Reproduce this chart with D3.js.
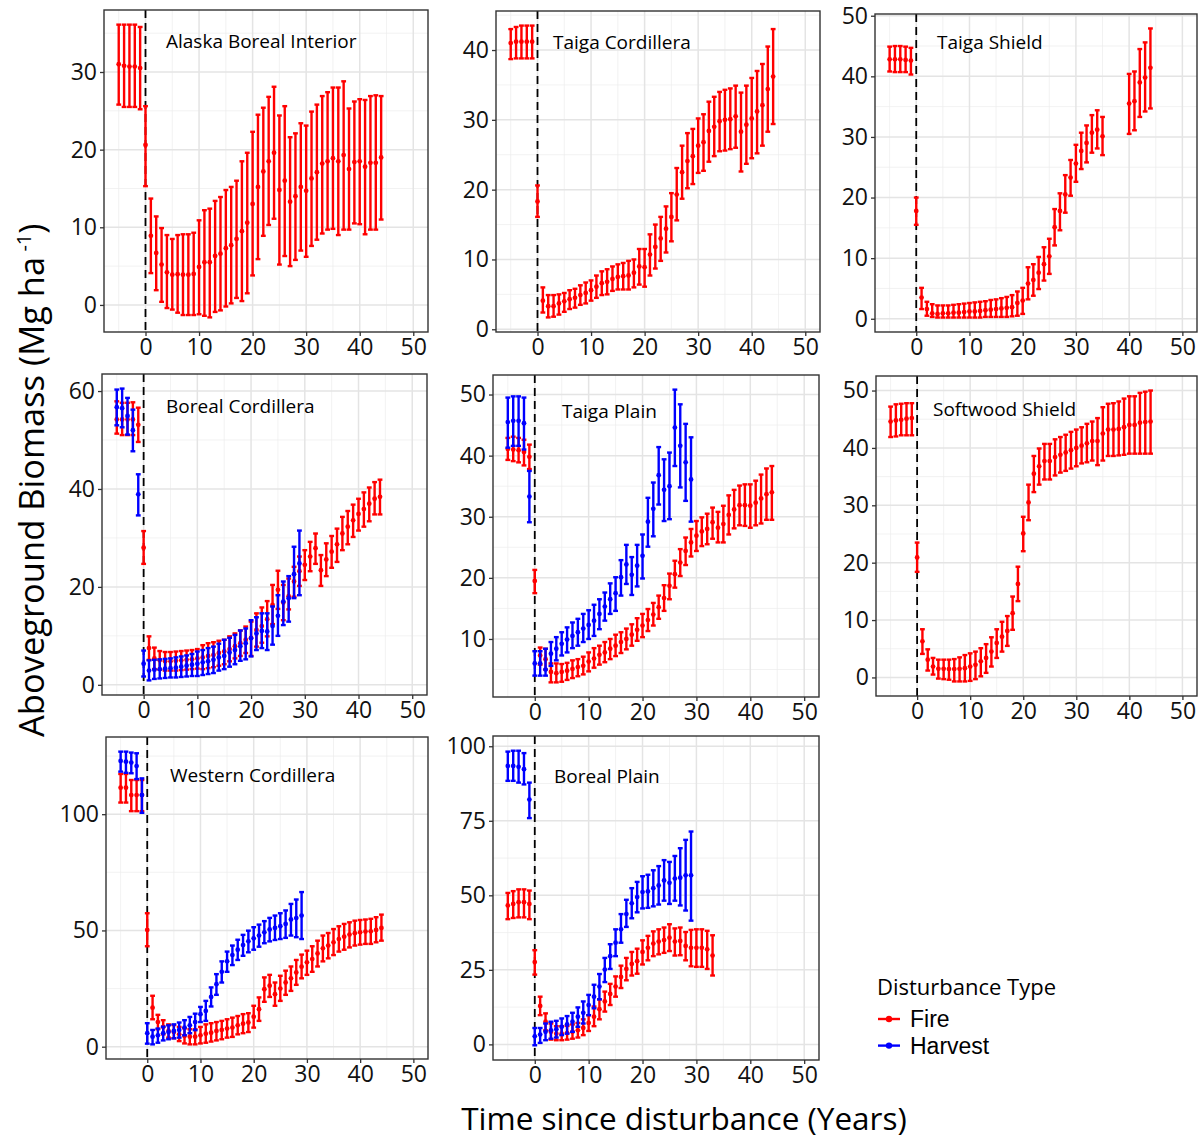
<!DOCTYPE html>
<html>
<head>
<meta charset="utf-8">
<script src="https://cdn.jsdelivr.net/npm/d3@7"></script>
<style>
  body { margin: 0; background: #fff; }
  svg { display: block; font-family: 'Open Sans', sans-serif; }
</style>
</head>
<body>
<svg id="chart" width="1200" height="1142"></svg>
<script>
// years on the x axis
const fireYears = [-5,-4,-3,-2,-1,0,1,2,3,4,5,6,7,8,9,10,11,12,13,14,15,16,17,18,19,20,21,22,23,24,25,26,27,28,29,30,31,32,33,34,35,36,37,38,39,40,41,42,43,44];
const harvestYears = [-5,-4,-3,-2,-1,0,1,2,3,4,5,6,7,8,9,10,11,12,13,14,15,16,17,18,19,20,21,22,23,24,25,26,27,28,29];
const borealPlainFireYears = [-5,-4,-3,-2,-1,0,1,2,3,4,5,6,7,8,9,10,11,12,13,14,15,16,17,18,19,20,21,22,23,24,25,26,27,28,29,30,31,32,33];
const xTickValues = [0, 10, 20, 30, 40, 50];

// Alaska Boreal Interior
const alaskaFireMean = [31.0,30.8,30.7,30.7,30.5,20.6,8.9,6.7,5.2,4.2,3.9,3.95,3.9,3.9,4.0,4.9,5.5,5.5,6.3,6.6,7.3,7.7,8.5,9.5,10.6,13.0,15.2,17.2,18.5,19.6,14.8,16.0,13.3,14.0,15.2,14.7,16.3,17.1,18.2,18.5,18.9,18.5,19.3,17.5,18.4,18.5,17.8,18.3,18.3,19.0];
const alaskaFireHi = [36.1,36.1,36.1,36.1,35.8,25.6,13.7,11.4,9.9,9.0,8.5,9.0,9.1,9.1,9.3,10.9,12.2,12.4,13.4,13.9,14.8,15.2,16.0,18.5,19.6,22.3,24.5,25.4,26.8,28.1,24.4,25.6,21.6,22.1,23.4,23.1,24.9,25.8,26.9,27.4,28.0,28.0,28.8,25.3,26.2,26.5,26.4,26.9,27.0,26.9];
const alaskaFireLo = [25.8,25.5,25.5,25.5,25.2,15.3,4.1,1.9,0.4,-0.4,-0.6,-1.0,-1.3,-1.3,-1.3,-1.2,-1.4,-1.6,-0.9,-0.7,-0.2,0.2,0.9,0.5,1.5,3.8,5.9,8.9,10.3,11.1,5.2,6.3,5.0,5.8,7.0,6.2,7.6,8.4,9.2,9.7,9.8,9.0,9.7,9.7,10.5,10.4,9.1,9.7,9.7,11.0];
const alaskaTicks = [0, 10, 20, 30];

// Taiga Cordillera
const taigaCordFireMean = [41.0,41.2,41.2,41.2,41.2,18.3,4.1,3.3,3.3,3.7,4.0,4.3,4.5,4.9,5.2,5.6,6.1,6.6,6.8,7.2,7.5,7.6,7.7,8.1,9.0,8.9,10.7,11.8,13.0,14.4,16.1,19.3,22.5,24.1,24.8,26.3,26.8,28.4,29.0,29.8,30.0,30.1,30.5,28.3,29.3,30.2,31.2,32.1,34.4,36.2];
const taigaCordFireHi = [43.0,43.3,43.5,43.5,43.5,20.6,6.0,4.9,4.9,5.0,5.2,5.6,5.8,6.3,6.7,7.0,7.7,8.3,8.6,9.0,9.3,9.5,9.8,10.0,11.5,11.5,13.6,15.0,16.1,17.6,19.5,23.1,26.3,28.1,28.7,30.2,30.8,32.6,33.3,34.0,34.3,34.5,34.9,33.9,34.9,36.0,37.0,38.0,40.5,43.0];
const taigaCordFireLo = [38.7,38.8,38.8,38.8,38.8,16.1,2.4,1.7,1.8,2.1,2.5,2.9,3.1,3.5,3.7,4.1,4.5,4.9,5.0,5.5,5.7,5.7,5.7,6.0,6.4,6.1,7.7,8.7,9.8,11.0,12.6,15.6,18.7,20.2,20.8,22.4,22.7,24.0,24.8,25.5,25.6,25.8,26.0,22.6,23.7,24.5,25.2,26.3,28.3,29.4];
const taigaCordTicks = [0, 10, 20, 30, 40];

// Taiga Shield (no estimate for years 36-39)
const taigaShieldFireMean = [42.8,42.8,42.8,42.7,42.6,17.8,3.5,1.6,0.9,0.8,0.9,0.9,1.0,1.0,1.1,1.2,1.2,1.3,1.4,1.5,1.6,1.7,1.8,1.9,2.6,3.0,5.8,6.4,7.6,9.0,10.3,15.1,17.8,20.5,23.3,25.6,27.7,29.0,30.7,31.2,30.1,null,null,null,null,35.5,35.9,39.0,39.8,41.4];
const taigaShieldFireHi = [44.9,45.0,45.0,44.9,44.7,20.0,5.1,2.8,2.4,2.2,2.2,2.2,2.3,2.4,2.5,2.6,2.7,2.8,2.9,3.1,3.2,3.4,3.6,3.9,4.5,5.1,8.5,9.0,10.2,11.8,13.2,18.1,20.7,23.7,26.2,28.7,30.7,31.9,33.6,34.4,33.3,null,null,null,null,40.4,40.8,44.5,45.6,47.9];
const taigaShieldFireLo = [40.8,40.7,40.7,40.7,40.3,15.5,1.6,0.5,0.3,0.2,0.2,0.2,0.2,0.2,0.2,0.2,0.2,0.2,0.3,0.3,0.3,0.3,0.3,0.4,0.5,0.8,3.2,3.8,4.9,6.3,7.4,12.1,14.6,17.5,20.3,22.6,24.7,25.8,27.4,28.1,27.0,null,null,null,null,30.5,31.1,33.3,34.2,34.7];
const taigaShieldTicks = [0, 10, 20, 30, 40, 50];

// Boreal Cordillera
const borealCordFireMean = [54.2,54.2,54.2,54.2,53.1,28.0,7.5,5.4,5.0,4.8,4.8,4.9,5.0,5.1,5.2,5.4,5.6,5.9,6.1,6.5,6.8,7.3,7.9,8.5,9.2,9.6,11.2,12.0,13.4,16.3,19.4,16.8,18.1,21.1,23.2,24.5,26.2,27.9,23.4,25.6,27.2,28.7,30.9,32.3,33.6,34.9,35.9,37.0,38.0,38.4];
const borealCordFireHi = [57.9,57.6,57.6,57.7,56.6,31.4,9.9,7.6,6.9,6.7,6.7,6.8,6.9,7.0,7.1,7.3,8.1,8.5,8.7,9.0,9.2,9.9,10.5,11.1,11.9,12.9,14.6,15.8,17.1,20.4,23.3,20.4,21.7,24.1,26.2,27.5,29.2,30.9,26.5,28.9,30.4,31.9,34.3,35.5,36.8,38.0,39.3,40.3,41.4,41.9];
const borealCordFireLo = [51.3,51.0,51.0,51.0,49.6,24.7,5.1,3.2,3.1,2.9,2.9,2.9,3.0,3.1,3.2,3.3,3.2,3.4,3.6,3.9,4.2,4.8,5.4,5.9,6.5,5.9,7.8,8.6,9.9,12.4,15.5,13.2,15.4,18.0,20.2,21.4,23.2,24.7,20.2,22.2,23.9,25.1,27.5,28.7,30.2,31.5,32.3,33.4,34.8,34.8];
const borealCordHarvestMean = [56.7,56.5,54.9,52.0,38.9,4.3,2.9,3.1,3.2,3.3,3.4,3.5,3.7,3.9,4.1,4.3,4.6,4.8,5.1,5.6,5.9,6.6,7.1,7.9,8.5,9.5,10.5,11.0,10.9,12.0,14.1,17.0,17.7,22.6,24.8];
const borealCordHarvestHi = [60.3,60.5,58.6,56.2,43.0,7.0,5.0,5.1,5.2,5.3,5.4,5.6,5.8,6.0,6.3,6.8,7.1,7.5,7.8,8.4,9.2,9.6,10.2,11.1,11.5,13.2,13.8,14.6,14.6,16.0,18.3,21.1,22.2,28.2,31.5];
const borealCordHarvestLo = [53.0,52.6,51.1,47.7,34.6,1.7,0.9,1.2,1.3,1.4,1.5,1.5,1.6,1.7,1.8,1.8,2.0,2.2,2.4,2.9,3.2,3.7,4.2,4.9,5.2,5.8,7.1,7.5,7.1,8.2,10.0,12.2,12.9,17.7,18.3];
const borealCordTicks = [0, 20, 40, 60];

// Taiga Plain
const taigaPlainFireMean = [41.1,41.0,40.9,40.6,39.8,19.5,7.3,6.7,4.6,4.4,4.6,4.8,5.1,5.4,5.6,6.3,6.8,7.4,7.8,8.4,8.9,9.5,10.0,10.7,11.5,12.2,13.1,14.0,15.2,16.7,18.7,20.6,22.5,24.4,25.8,26.9,27.6,28.0,29.1,28.2,28.8,30.3,31.2,31.9,31.9,31.8,32.3,33.0,33.7,34.0];
const taigaPlainFireHi = [42.9,43.1,42.9,42.6,41.8,21.3,8.6,8.4,6.0,6.0,5.9,6.1,6.5,6.7,7.1,7.8,8.5,8.9,9.5,10.0,10.7,11.1,11.7,12.4,13.4,14.1,14.9,15.9,17.1,18.8,20.7,22.8,24.7,26.6,28.0,29.3,29.9,30.5,31.5,30.8,31.8,33.5,34.4,35.1,35.3,35.3,35.9,36.9,37.9,38.3];
const taigaPlainFireLo = [39.3,39.1,38.9,38.4,37.8,17.5,5.8,5.0,2.9,2.9,3.0,3.3,3.6,3.9,4.2,4.7,5.3,5.8,6.2,6.7,7.2,7.7,8.3,8.9,9.7,10.3,11.3,12.2,13.3,14.6,16.5,18.4,20.3,22.1,23.5,24.4,25.2,25.5,26.4,25.8,25.8,27.1,28.1,28.6,28.5,28.2,28.6,28.9,29.5,29.5];
const taigaPlainHarvestMean = [45.5,45.7,45.7,45.3,33.3,6.0,6.0,5.0,7.6,8.4,9.2,9.9,10.5,11.1,11.7,12.3,13.0,14.1,15.3,16.5,17.5,20.1,22.2,20.5,22.0,23.6,29.2,31.3,36.8,34.4,35.0,44.6,41.6,38.9,36.1];
const taigaPlainHarvestHi = [49.5,49.7,49.7,49.5,37.5,8.0,8.0,8.4,9.5,10.3,11.1,11.9,12.7,13.3,14.1,14.7,15.6,16.5,17.6,19.1,20.1,22.9,25.4,23.4,25.4,27.1,33.1,35.6,41.4,39.4,40.5,50.8,48.4,45.2,43.0];
const taigaPlainHarvestLo = [41.3,41.6,41.6,41.0,29.1,4.0,4.0,4.0,5.6,6.5,7.3,7.8,8.5,8.9,9.5,10.0,10.5,11.6,13.0,14.1,14.6,17.1,19.0,17.2,18.6,19.9,25.1,26.8,32.0,29.3,29.6,38.3,34.8,32.6,29.2];
const taigaPlainTicks = [10, 20, 30, 40, 50];

// Softwood Shield
const softwoodFireMean = [44.6,44.8,44.9,45.1,45.2,20.9,6.3,3.1,1.9,1.5,1.5,1.45,1.45,1.5,1.6,1.9,2.2,2.8,3.4,4.5,6.0,7.1,8.1,11.2,16.3,25.1,30.5,35.5,36.8,37.7,37.7,38.4,38.8,39.2,39.6,40.0,40.4,40.8,41.2,41.2,42.5,43.2,43.2,43.3,43.6,44.0,44.0,44.4,44.5,44.6];
const softwoodFireHi = [47.2,47.6,47.7,47.8,47.8,23.5,8.4,4.9,3.4,3.1,3.1,3.1,3.2,3.5,3.9,4.2,4.5,5.1,5.8,7.0,8.4,9.7,10.7,14.1,19.3,28.0,33.6,38.6,39.9,40.7,40.7,41.5,41.9,42.3,42.8,43.2,43.6,44.2,44.6,45.2,47.1,47.7,47.8,48.1,48.6,49.0,49.0,49.6,49.8,50.0];
const softwoodFireLo = [41.9,42.0,42.2,42.2,42.2,18.4,4.1,1.2,0.5,-0.2,-0.3,-0.4,-0.7,-0.7,-0.7,-0.6,-0.3,0.2,0.8,1.9,3.4,4.5,5.5,8.3,13.3,22.0,27.4,32.3,33.6,34.5,34.5,35.2,35.7,36.0,36.4,36.8,37.3,37.5,37.8,37.0,37.8,38.6,38.6,38.7,38.8,39.0,39.0,39.0,39.0,39.0];
const softwoodTicks = [0, 10, 20, 30, 40, 50];

// Western Cordillera
const westernCordFireMean = [111.4,111.4,108.2,108.2,108.2,50.2,16.8,10.6,8.5,6.8,6.3,5.3,4.6,4.3,4.3,4.9,5.6,6.0,6.8,7.2,7.8,8.2,9.2,9.9,10.4,12.9,16.1,24.7,26.2,22.6,25.0,27.6,29.4,31.9,34.4,36.3,37.7,40.1,42.3,43.5,44.9,46.3,47.3,48.2,48.8,49.2,49.5,49.6,50.2,51.1];
const westernCordFireHi = [117.3,117.3,114.7,114.7,114.7,57.4,21.9,13.7,11.4,9.6,9.3,8.5,7.9,7.5,7.5,8.5,9.6,10.1,10.6,11.1,11.8,12.5,13.2,14.0,14.4,17.6,21.2,29.8,30.9,27.6,30.5,32.7,34.5,37.3,39.6,41.3,43.2,45.6,47.8,48.9,50.6,51.8,52.8,53.5,54.2,54.5,54.7,55.0,55.7,56.8];
const westernCordFireLo = [105.0,105.0,101.3,101.3,101.3,43.2,11.8,7.5,5.3,3.9,3.6,2.4,1.4,1.0,1.0,1.4,1.7,2.2,2.7,3.2,3.9,4.2,5.3,5.8,6.3,8.2,11.1,19.3,21.4,17.6,19.7,22.3,24.0,26.6,29.4,30.9,32.2,34.5,36.7,38.0,39.4,40.9,41.7,42.7,43.5,43.9,44.2,44.2,44.9,45.6];
const westernCordHarvestMean = [122.9,122.6,122.2,120.7,108.2,5.8,4.3,4.9,5.8,6.3,6.8,7.2,8.2,9.2,10.6,14.0,15.4,21.4,26.9,32.2,36.7,39.4,41.7,43.7,45.3,46.6,47.8,49.2,50.4,51.1,51.8,52.8,54.7,55.3,56.4];
const westernCordHarvestHi = [126.9,126.9,126.5,126.2,115.4,10.1,7.2,7.8,8.6,9.2,9.6,10.4,11.4,12.8,14.2,17.1,19.7,25.5,31.2,36.7,40.9,43.5,46.0,48.1,49.9,51.4,52.5,54.0,55.4,56.4,57.4,58.6,61.4,63.3,66.5];
const westernCordHarvestLo = [118.3,117.8,117.6,115.1,100.6,1.3,1.0,1.7,2.7,3.2,3.6,3.9,4.9,5.8,7.1,10.6,11.1,17.3,22.3,27.6,32.2,35.1,37.3,39.1,40.6,41.7,43.0,44.5,45.3,45.9,46.3,46.8,47.8,47.1,46.3];
const westernCordTicks = [0, 50, 100];

// Boreal Plain
const borealPlainFireMean = [46.6,47.1,47.7,47.7,47.1,27.6,12.9,7.6,4.2,3.6,3.6,3.8,4.2,4.7,5.5,7.2,9.3,11.8,14.4,16.9,19.4,22.6,25.3,27.0,27.9,31.0,32.4,33.8,34.5,35.0,35.8,34.5,34.7,33.0,32.4,32.4,32.4,31.9,29.8];
const borealPlainFireHi = [50.8,51.4,52.0,52.0,51.6,31.6,16.0,10.4,7.0,6.1,6.1,6.2,6.7,7.2,8.4,9.8,12.7,15.1,17.7,20.3,22.8,26.4,29.0,31.0,32.1,34.9,36.4,37.9,38.6,39.2,40.3,38.9,39.2,37.7,38.4,38.6,38.6,38.1,36.6];
const borealPlainFireLo = [42.0,42.4,42.6,42.6,42.0,23.4,9.8,4.7,1.6,1.4,1.4,1.6,1.9,2.3,3.1,4.5,6.1,8.4,11.0,13.2,16.0,18.9,21.5,23.1,23.7,26.8,28.2,29.6,30.2,30.7,31.3,29.8,29.9,28.2,26.2,26.0,26.0,25.3,23.1];
const borealPlainHarvestMean = [93.4,93.4,93.1,92.3,82.1,2.7,3.3,4.2,4.7,5.1,5.9,6.7,7.6,9.3,10.6,13.2,16.0,19.4,25.1,29.6,34.1,38.6,43.7,47.3,49.4,51.1,51.3,52.4,53.3,55.0,54.2,55.6,55.9,56.7,56.7];
const borealPlainHarvestHi = [98.2,98.5,98.5,97.7,87.8,5.5,5.5,7.0,7.6,7.9,8.7,9.5,10.6,12.4,14.4,16.6,20.0,23.6,29.0,33.6,38.6,43.7,48.5,52.4,54.5,56.4,56.9,58.4,59.8,61.8,61.2,63.2,65.8,68.6,71.4];
const borealPlainHarvestLo = [88.4,88.4,87.8,87.2,75.9,-0.3,0.5,1.4,1.9,2.3,3.1,3.6,4.2,5.9,7.0,9.8,12.1,15.1,20.9,25.3,29.6,34.1,39.4,42.3,44.3,45.6,45.8,46.3,46.9,48.2,47.1,48.2,46.6,44.9,41.5];
const borealPlainTicks = [0, 25, 50, 75, 100];

const types = ['Fire', 'Harvest'];

const series = (type, years, mean, lo, hi) => ({ type, years, mean, lo, hi });

const panels = [
  { name: 'Alaska Boreal Interior', ticks: alaskaTicks,
    series: [series('Fire', fireYears, alaskaFireMean, alaskaFireLo, alaskaFireHi)] },
  { name: 'Taiga Cordillera', ticks: taigaCordTicks,
    series: [series('Fire', fireYears, taigaCordFireMean, taigaCordFireLo, taigaCordFireHi)] },
  { name: 'Taiga Shield', ticks: taigaShieldTicks,
    series: [series('Fire', fireYears, taigaShieldFireMean, taigaShieldFireLo, taigaShieldFireHi)] },
  { name: 'Boreal Cordillera', ticks: borealCordTicks,
    series: [series('Fire', fireYears, borealCordFireMean, borealCordFireLo, borealCordFireHi),
             series('Harvest', harvestYears, borealCordHarvestMean, borealCordHarvestLo, borealCordHarvestHi)] },
  { name: 'Taiga Plain', ticks: taigaPlainTicks,
    series: [series('Fire', fireYears, taigaPlainFireMean, taigaPlainFireLo, taigaPlainFireHi),
             series('Harvest', harvestYears, taigaPlainHarvestMean, taigaPlainHarvestLo, taigaPlainHarvestHi)] },
  { name: 'Softwood Shield', ticks: softwoodTicks,
    series: [series('Fire', fireYears, softwoodFireMean, softwoodFireLo, softwoodFireHi)] },
  { name: 'Western Cordillera', ticks: westernCordTicks,
    series: [series('Fire', fireYears, westernCordFireMean, westernCordFireLo, westernCordFireHi),
             series('Harvest', harvestYears, westernCordHarvestMean, westernCordHarvestLo, westernCordHarvestHi)] },
  { name: 'Boreal Plain', ticks: borealPlainTicks,
    series: [series('Fire', borealPlainFireYears, borealPlainFireMean, borealPlainFireLo, borealPlainFireHi),
             series('Harvest', harvestYears, borealPlainHarvestMean, borealPlainHarvestLo, borealPlainHarvestHi)] },
];

// panel boxes [left, top, right, bottom] and label offsets [dx, baseline dy]
const boxes = [
  [104, 10, 428, 332], [496, 11, 820, 332], [875, 14, 1197, 332],
  [102, 374, 427, 695], [493, 375, 819, 697], [876, 376, 1197, 696],
  [106, 737, 428, 1059], [493, 736, 819, 1060],
];
const labelOffsets = [[62, 38], [57, 38], [62, 35], [64, 39], [69, 43], [57, 40], [64, 45], [61, 47]];

const xDomain = [-7.75, 52.75];
const capHalf = 0.45;
const fontSize = 23;

const color = d3.scaleOrdinal().domain(types).range(['#ff0000', '#0000ff']);

const svg = d3.select('#chart');
svg.append('rect').attr('width', 1200).attr('height', 1142).attr('fill', '#fff');

// minor breaks halfway between majors, ggplot style
const minorBreaks = (ticks, domain) => {
  const step = ticks[1] - ticks[0];
  const ext = [ticks[0] - step, ...ticks, ticks[ticks.length - 1] + step];
  return ext.slice(0, -1).map((t) => t + step / 2)
    .filter((t) => t >= domain[0] && t <= domain[1]);
};

panels.forEach((p, i) => {
  const [x0, y0, x1, y1] = boxes[i];
  const x = d3.scaleLinear().domain(xDomain).range([x0, x1]);

  const lo = d3.min(p.series, (s) => d3.min(s.lo));
  const hi = d3.max(p.series, (s) => d3.max(s.hi));
  const pad = (hi - lo) * 0.05;
  const y = d3.scaleLinear().domain([lo - pad, hi + pad]).range([y1, y0]);

  const g = svg.append('g').attr('class', 'panel');

  // Grid
  const grid = g.append('g');
  grid.selectAll('.xminor')
    .data(minorBreaks(xTickValues, xDomain))
    .enter().append('line')
    .attr('x1', (d) => x(d)).attr('x2', (d) => x(d))
    .attr('y1', y0).attr('y2', y1)
    .attr('stroke', '#ececec').attr('stroke-width', 0.7);
  grid.selectAll('.yminor')
    .data(minorBreaks(p.ticks, y.domain()))
    .enter().append('line')
    .attr('x1', x0).attr('x2', x1)
    .attr('y1', (d) => y(d)).attr('y2', (d) => y(d))
    .attr('stroke', '#ececec').attr('stroke-width', 0.7);
  grid.selectAll('.xmajor')
    .data(xTickValues)
    .enter().append('line')
    .attr('x1', (d) => x(d)).attr('x2', (d) => x(d))
    .attr('y1', y0).attr('y2', y1)
    .attr('stroke', '#e4e4e4').attr('stroke-width', 1.5);
  grid.selectAll('.ymajor')
    .data(p.ticks)
    .enter().append('line')
    .attr('x1', x0).attr('x2', x1)
    .attr('y1', (d) => y(d)).attr('y2', (d) => y(d))
    .attr('stroke', '#e4e4e4').attr('stroke-width', 1.5);

  // Disturbance line
  g.append('line')
    .attr('x1', x(0)).attr('x2', x(0))
    .attr('y1', y0).attr('y2', y1)
    .attr('stroke', '#000')
    .attr('stroke-width', 1.8)
    .attr('stroke-dasharray', '8,5');

  // Error bars
  p.series.forEach((s) => {
    const pts = s.years
      .map((yr, k) => ({ yr, mean: s.mean[k], lo: s.lo[k], hi: s.hi[k] }))
      .filter((d) => d.mean !== null);
    const c = color(s.type);
    const bars = g.append('g').attr('stroke', c).attr('fill', c).attr('stroke-width', 2.4);
    bars.selectAll('.bar').data(pts).enter().append('line')
      .attr('x1', (d) => x(d.yr)).attr('x2', (d) => x(d.yr))
      .attr('y1', (d) => y(d.lo)).attr('y2', (d) => y(d.hi));
    bars.selectAll('.capHi').data(pts).enter().append('line')
      .attr('x1', (d) => x(d.yr - capHalf)).attr('x2', (d) => x(d.yr + capHalf))
      .attr('y1', (d) => y(d.hi)).attr('y2', (d) => y(d.hi));
    bars.selectAll('.capLo').data(pts).enter().append('line')
      .attr('x1', (d) => x(d.yr - capHalf)).attr('x2', (d) => x(d.yr + capHalf))
      .attr('y1', (d) => y(d.lo)).attr('y2', (d) => y(d.lo));
    bars.selectAll('circle').data(pts).enter().append('circle')
      .attr('cx', (d) => x(d.yr)).attr('cy', (d) => y(d.mean))
      .attr('r', 2.4).attr('stroke', 'none');
  });

  // Panel border
  g.append('rect')
    .attr('x', x0).attr('y', y0)
    .attr('width', x1 - x0).attr('height', y1 - y0)
    .attr('fill', 'none').attr('stroke', '#333').attr('stroke-width', 1.4);

  // Axes
  const xAxis = d3.axisBottom(x).tickValues(xTickValues).tickSize(4).tickPadding(3);
  const gx = g.append('g').attr('transform', `translate(0, ${y1})`).call(xAxis);
  const yAxis = d3.axisLeft(y).tickValues(p.ticks).tickSize(4).tickPadding(3);
  const gy = g.append('g').attr('transform', `translate(${x0}, 0)`).call(yAxis);
  [gx, gy].forEach((a) => {
    a.select('.domain').remove();
    a.selectAll('.tick line').attr('stroke', '#333').attr('stroke-width', 1.3);
    a.selectAll('.tick text')
      .attr('font-family', "'Open Sans', sans-serif")
      .attr('font-size', fontSize)
      .attr('fill', '#111');
  });

  // Region label
  g.append('text')
    .attr('x', x0 + labelOffsets[i][0])
    .attr('y', y0 + labelOffsets[i][1])
    .attr('font-size', 19)
    .attr('fill', '#000')
    .text(p.name);
});

// Axis titles
svg.append('text')
  .attr('x', 684).attr('y', 1130)
  .attr('text-anchor', 'middle')
  .attr('font-size', 31.5)
  .attr('fill', '#000')
  .text('Time since disturbance (Years)');

const yTitle = svg.append('text')
  .attr('transform', 'translate(44, 737) rotate(-90)')
  .attr('font-size', 34.5)
  .attr('fill', '#000');
yTitle.append('tspan').text('Aboveground Biomass (Mg ha');
yTitle.append('tspan').attr('font-size', 20).attr('dy', -13).text(' -1');
yTitle.append('tspan').attr('dy', 13).text(')');

// Legend
const legendGap = 26.6;
const legend = svg.append('g').attr('transform', 'translate(877, 995)');
legend.append('text')
  .attr('x', 0).attr('y', 0)
  .attr('font-size', 22)
  .attr('fill', '#000')
  .text('Disturbance Type');
const keys = legend.selectAll('.key')
  .data(types)
  .enter().append('g')
  .attr('transform', (d, k) => `translate(0, ${24 + k * legendGap})`);
keys.append('line')
  .attr('x1', 1).attr('x2', 23)
  .attr('y1', 0).attr('y2', 0)
  .attr('stroke', (d) => color(d)).attr('stroke-width', 2.4);
keys.append('circle')
  .attr('cx', 12).attr('cy', 0).attr('r', 3.2)
  .attr('fill', (d) => color(d));
keys.append('text')
  .attr('x', 33).attr('y', 8)
  .attr('font-family', "'Liberation Sans', Arial, sans-serif")
  .attr('font-size', 23)
  .attr('fill', '#000')
  .text((d) => d);
</script>
</body>
</html>
